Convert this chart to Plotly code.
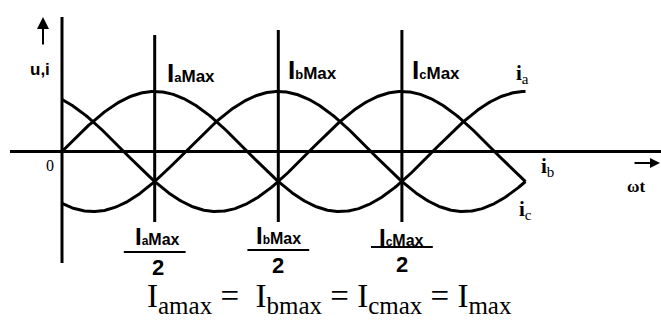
import numpy as np
import plotly.graph_objects as go

# ---------------- data ----------------
phase_names = ["a", "b", "c"]
phase_shift_deg = [0, 120, 240]      # ia, ib, ic lag
peak_deg = [90, 210, 330]            # where IaMax, IbMax, IcMax occur
amplitude = 1.0                      # Imax (normalised)
wt_start, wt_end = 0, 450            # drawn span of ωt in degrees

# ---------------- geometry (pixel calibration) ----------------
W, H = 661, 322
X0PX, PXDEG = 62.0, 1.03     # pixel of ωt=0, pixels per degree
Y0PX, PXUNIT = 151.5, 60.0   # pixel of i=0, pixels per unit current


def dx(px):
    return (px - X0PX) / PXDEG


def dy(py):
    return (Y0PX - py) / PXUNIT


BLACK = "#000000"
SANS = "Liberation Sans, Arial, sans-serif"
SERIF = "Liberation Serif, Times New Roman, serif"

fig = go.Figure()

# sinusoidal phase currents
theta = np.arange(wt_start, wt_end + 1, 1.0)
for name, sh in zip(phase_names, phase_shift_deg):
    fig.add_trace(go.Scatter(
        x=theta, y=amplitude * np.sin(np.radians(theta - sh)),
        mode="lines", line=dict(color=BLACK, width=3),
        name="i" + name, hoverinfo="skip"))

# vertical marker lines at each maximum
vline_top = [dy(35), dy(30), dy(30)]
vline_bot = dy(222)
for p, top in zip(peak_deg, vline_top):
    fig.add_trace(go.Scatter(x=[p, p], y=[vline_bot, top], mode="lines",
                             line=dict(color=BLACK, width=3), hoverinfo="skip"))

shapes = []
# axes
shapes.append(dict(type="line", xref="x", yref="y", x0=dx(10), x1=dx(662), y0=0, y1=0,
                   line=dict(color=BLACK, width=3)))
shapes.append(dict(type="line", xref="x", yref="y", x0=0, x1=0, y0=dy(17), y1=dy(263),
                   line=dict(color=BLACK, width=3)))
# fraction bars
frac_bar_py = [252, 250, 247]
for p, py in zip(peak_deg, frac_bar_py):
    shapes.append(dict(type="line", xref="x", yref="y", x0=p - 30, x1=p + 30,
                       y0=dy(py), y1=dy(py), line=dict(color=BLACK, width=2)))

ann = []


def label(name, isz=26, ssz=13, msz=17):
    return (f"<span style='font-size:{isz}px'>I</span>"
            f"<span style='font-size:{ssz}px'>{name}</span>"
            f"<span style='font-size:{msz}px'>Max</span>")


top_label_py = [73, 70, 70]
top_label_dx = [10, 8, 8]
for name, p, py, sx in zip(phase_names, peak_deg, top_label_py, top_label_dx):
    ann.append(dict(x=p, y=dy(py), xref="x", yref="y", xanchor="left", yanchor="middle",
                    xshift=sx, text="<b>" + label(name) + "</b>", showarrow=False,
                    font=dict(family=SANS, size=17, color=BLACK)))

num_py = [236, 235, 237]
two_py = [267, 265, 264]
num_shift = [3, 0, 0]
for name, p, py, py2, sx in zip(phase_names, peak_deg, num_py, two_py, num_shift):
    ann.append(dict(x=p, y=dy(py), xref="x", yref="y", xanchor="center", yanchor="middle",
                    xshift=sx, text="<b>" + label(name, 24, 12, 16) + "</b>", showarrow=False,
                    font=dict(family=SANS, size=16, color=BLACK)))
    ann.append(dict(x=p, y=dy(py2), xref="x", yref="y", xanchor="center", yanchor="middle",
                    xshift=sx, text="<b>2</b>", showarrow=False,
                    font=dict(family=SANS, size=22, color=BLACK)))

# axis labels
ann.append(dict(x=dx(40), y=dy(69), xref="x", yref="y", text="<b>u,i</b>", showarrow=False,
                font=dict(family=SANS, size=17, color=BLACK)))
ann.append(dict(x=dx(50), y=dy(165), xref="x", yref="y", text="0", showarrow=False,
                font=dict(family=SERIF, size=16, color=BLACK)))
ann.append(dict(x=dx(636), y=dy(186), xref="x", yref="y", text="<b>ωt</b>", showarrow=False,
                font=dict(family=SERIF, size=17, color=BLACK)))

# curve labels
curve_lbl = [("a", 514, 74), ("b", 539, 167), ("c", 517, 210)]
for name, px, py in curve_lbl:
    ann.append(dict(x=dx(px), y=dy(py), xref="x", yref="y", xanchor="left", yanchor="middle",
                    text=f"<b>i</b><sub><span style='font-size:15px'>{name}</span></sub>",
                    showarrow=False, font=dict(family=SERIF, size=21, color=BLACK)))

# arrows
ann.append(dict(x=dx(43), y=dy(17), ax=dx(43), ay=dy(46), xref="x", yref="y",
                axref="x", ayref="y", text="", showarrow=True, arrowhead=2,
                arrowsize=1.2, arrowwidth=2, arrowcolor=BLACK))
ann.append(dict(x=dx(660), y=dy(163), ax=dx(633), ay=dy(163), xref="x", yref="y",
                axref="x", ayref="y", text="", showarrow=True, arrowhead=2,
                arrowsize=1, arrowwidth=2, arrowcolor=BLACK))

# equation
SUB = "<sub><span style='font-size:25px'>{}</span></sub>"
eq = ("I" + SUB.format("amax") + " =  "
      "I" + SUB.format("bmax") + " = "
      "I" + SUB.format("cmax") + " = "
      "I" + SUB.format("max"))
ann.append(dict(x=dx(145), y=dy(298), xref="x", yref="y", xanchor="left", yanchor="middle",
                text=eq, showarrow=False, font=dict(family=SERIF, size=33, color=BLACK)))

fig.update_layout(
    width=W, height=H, margin=dict(l=0, r=0, t=0, b=0),
    paper_bgcolor="white", plot_bgcolor="white", showlegend=False,
    xaxis=dict(visible=False, range=[dx(0), dx(W)], fixedrange=True),
    yaxis=dict(visible=False, range=[dy(H), dy(0)], fixedrange=True),
    shapes=shapes, annotations=ann,
)

fig.write_html("out.html", config={"displayModeBar": False},
               post_script="document.body.style.margin='0';")
